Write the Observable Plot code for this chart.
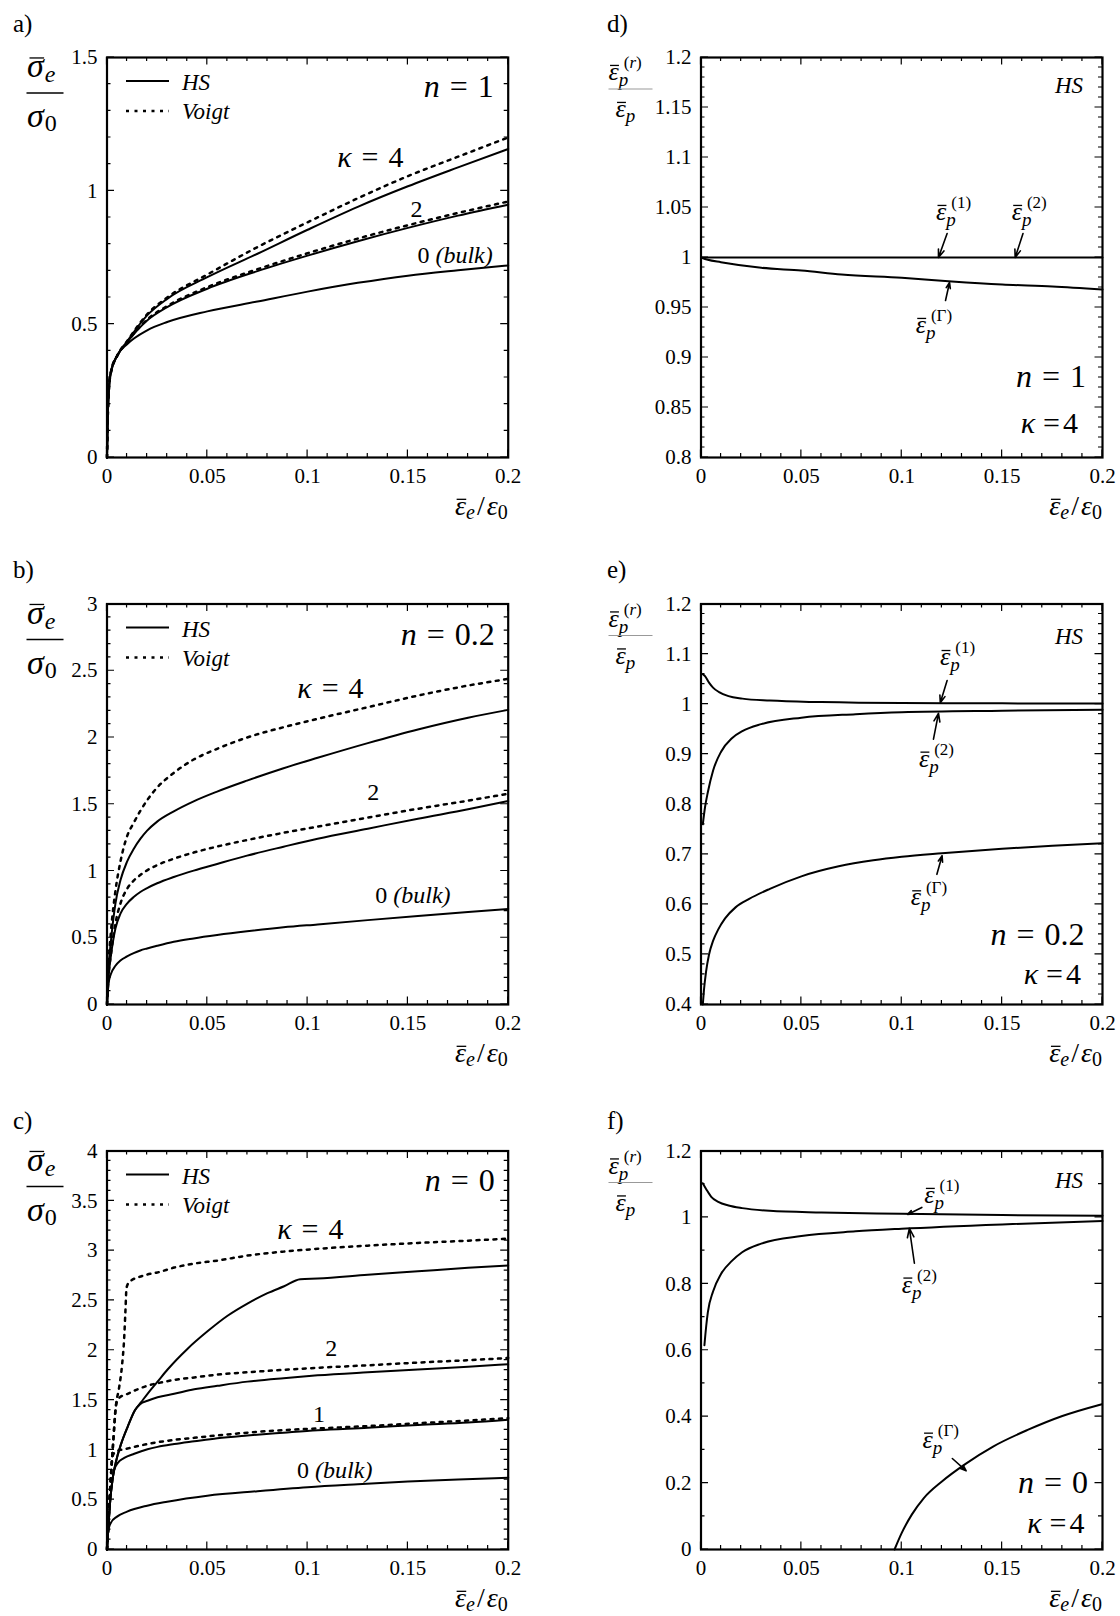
<!DOCTYPE html>
<html><head><meta charset="utf-8">
<script src="https://cdn.jsdelivr.net/npm/d3@7"></script>
<script src="https://cdn.jsdelivr.net/npm/@observablehq/plot@0.6"></script>
<style>
body{margin:0;background:#fff;}
#root{position:relative;width:1120px;height:1616px;background:#fff;}
.panel{position:absolute;}
</style></head><body><div id="root"></div>
<script>
const FONT = '"Liberation Serif", serif';

// ---------- axis ticks ----------
const xTicks = [0, 0.05, 0.1, 0.15, 0.2];
const aYTicks = [0, 0.5, 1, 1.5];
const bYTicks = [0, 0.5, 1, 1.5, 2, 2.5, 3];
const cYTicks = [0, 0.5, 1, 1.5, 2, 2.5, 3, 3.5, 4];
const dYTicks = [0.8, 0.85, 0.9, 0.95, 1, 1.05, 1.1, 1.15, 1.2];
const eYTicks = [0.4, 0.5, 0.6, 0.7, 0.8, 0.9, 1, 1.1, 1.2];
const fYTicks = [0, 0.2, 0.4, 0.6, 0.8, 1, 1.2];

// ---------- panel a (n = 1) ----------
const aX     = [0, 0.0003, 0.001, 0.002, 0.005, 0.01, 0.02, 0.03, 0.05, 0.075, 0.1, 0.125, 0.15, 0.175, 0.2];
const aBulk  = [0, 0.127, 0.262, 0.325, 0.382, 0.425, 0.477, 0.508, 0.548, 0.585, 0.622, 0.655, 0.682, 0.702, 0.72];
const aHS2   = [0, 0.127, 0.262, 0.322, 0.38, 0.432, 0.514, 0.564, 0.633, 0.699, 0.757, 0.811, 0.861, 0.907, 0.948];
const aV2    = [0, 0.127, 0.262, 0.322, 0.38, 0.433, 0.517, 0.568, 0.639, 0.706, 0.766, 0.821, 0.871, 0.917, 0.96];
const aHS4   = [0, 0.127, 0.262, 0.32, 0.38, 0.435, 0.533, 0.595, 0.676, 0.764, 0.854, 0.94, 1.017, 1.088, 1.157];
const aV4    = [0, 0.127, 0.262, 0.32, 0.38, 0.436, 0.537, 0.6, 0.686, 0.789, 0.882, 0.972, 1.055, 1.128, 1.2];

// ---------- panel b (n = 0.2) ----------
const bX     = [0, 0.0008, 0.002, 0.0042, 0.0067, 0.01, 0.0133, 0.0166, 0.02, 0.025, 0.0333, 0.0432, 0.0549, 0.0698, 0.088, 0.105, 0.13, 0.155, 0.18, 0.2];
const bBulk  = [0, 0.16, 0.23, 0.29, 0.33, 0.36, 0.385, 0.405, 0.42, 0.44, 0.47, 0.495, 0.52, 0.548, 0.578, 0.6, 0.632, 0.663, 0.693, 0.716];
const bHS2   = [0, 0.21, 0.37, 0.569, 0.68, 0.756, 0.805, 0.843, 0.872, 0.908, 0.955, 1.003, 1.053, 1.115, 1.182, 1.242, 1.317, 1.392, 1.462, 1.524];
const bV2    = [0, 0.22, 0.38, 0.606, 0.756, 0.866, 0.928, 0.97, 1.005, 1.044, 1.092, 1.138, 1.183, 1.232, 1.286, 1.332, 1.4, 1.466, 1.527, 1.579];
const bHS4   = [0, 0.28, 0.48, 0.756, 0.93, 1.07, 1.165, 1.24, 1.302, 1.37, 1.447, 1.522, 1.595, 1.677, 1.77, 1.848, 1.958, 2.06, 2.148, 2.207];
const bV4    = [0, 0.3, 0.55, 0.85, 1.07, 1.26, 1.36, 1.45, 1.53, 1.625, 1.735, 1.835, 1.915, 2.0, 2.077, 2.14, 2.227, 2.314, 2.389, 2.439];

// ---------- panel c (n = 0) ----------
const cBulkX = [0, 0.0003, 0.001, 0.002, 0.005, 0.01, 0.02, 0.03, 0.05, 0.075, 0.1, 0.125, 0.15, 0.175, 0.2];
const cBulk  = [0, 0.12, 0.22, 0.27, 0.33, 0.38, 0.44, 0.48, 0.54, 0.585, 0.625, 0.655, 0.682, 0.702, 0.72];
const cHS1X  = [0, 0.0007, 0.0015, 0.0028, 0.0036, 0.0053, 0.0086, 0.0136, 0.0202, 0.0252, 0.0335, 0.0435, 0.055, 0.07, 0.088, 0.105, 0.13, 0.155, 0.18, 0.2];
const cHS1   = [0, 0.223, 0.466, 0.71, 0.8, 0.867, 0.919, 0.961, 1.006, 1.03, 1.058, 1.086, 1.117, 1.145, 1.173, 1.198, 1.222, 1.25, 1.274, 1.302];
const cV1X   = [0, 0.0005, 0.0012, 0.002, 0.0027, 0.0033, 0.005, 0.0087, 0.0136, 0.02, 0.025, 0.0335, 0.0435, 0.055, 0.07, 0.088, 0.105, 0.13, 0.155, 0.18, 0.2];
const cV1    = [0, 0.2, 0.47, 0.75, 0.93, 0.96, 0.989, 1.006, 1.03, 1.058, 1.076, 1.1, 1.121, 1.145, 1.173, 1.198, 1.215, 1.239, 1.267, 1.295, 1.319];
const cHS2X  = [0, 0.0007, 0.0015, 0.0028, 0.0045, 0.007, 0.0103, 0.014, 0.0165, 0.0202, 0.0252, 0.0335, 0.0435, 0.055, 0.07, 0.088, 0.105, 0.13, 0.155, 0.18, 0.2];
const cHS2   = [0, 0.223, 0.466, 0.71, 0.884, 1.058, 1.232, 1.4, 1.459, 1.493, 1.528, 1.563, 1.608, 1.643, 1.685, 1.72, 1.748, 1.779, 1.807, 1.835, 1.859];
const cV2X   = [0, 0.0005, 0.0012, 0.002, 0.003, 0.0045, 0.006, 0.0103, 0.0153, 0.02, 0.025, 0.0335, 0.0435, 0.055, 0.07, 0.088, 0.105, 0.13, 0.155, 0.18, 0.2];
const cV2    = [0, 0.2, 0.47, 0.75, 1.05, 1.45, 1.52, 1.563, 1.608, 1.643, 1.668, 1.702, 1.727, 1.755, 1.779, 1.803, 1.824, 1.849, 1.876, 1.9, 1.922];
const cHS4X  = [0, 0.0007, 0.0015, 0.0028, 0.0045, 0.007, 0.0103, 0.014, 0.0169, 0.0202, 0.0252, 0.0302, 0.0402, 0.0501, 0.0601, 0.07, 0.08, 0.0883, 0.0963, 0.105, 0.13, 0.155, 0.18, 0.2];
const cHS4   = [0, 0.223, 0.466, 0.71, 0.884, 1.058, 1.232, 1.4, 1.476, 1.563, 1.685, 1.807, 2.016, 2.19, 2.346, 2.468, 2.573, 2.642, 2.712, 2.72, 2.757, 2.792, 2.827, 2.851];
const cV4X   = [0, 0.0005, 0.0012, 0.002, 0.003, 0.0045, 0.006, 0.0075, 0.0085, 0.0092, 0.0097, 0.0105, 0.012, 0.0153, 0.02, 0.025, 0.0335, 0.0435, 0.055, 0.07, 0.088, 0.105, 0.13, 0.155, 0.18, 0.2];
const cV4    = [0, 0.2, 0.47, 0.75, 1.05, 1.45, 1.62, 1.85, 2.1, 2.4, 2.62, 2.67, 2.7, 2.73, 2.76, 2.78, 2.83, 2.87, 2.9, 2.95, 2.99, 3.018, 3.05, 3.077, 3.1, 3.12];

// ---------- panel d (n = 1, kappa = 4) ----------
const dX1 = [0, 0.05, 0.1, 0.15, 0.2];
const dR1 = [1, 1, 1, 1, 1];
const dXG = [0, 0.0034, 0.0099, 0.03, 0.05, 0.07, 0.1, 0.125, 0.15, 0.175, 0.2];
const dRG = [1.0, 0.9977, 0.9953, 0.9897, 0.987, 0.983, 0.9797, 0.976, 0.973, 0.971, 0.968];

// ---------- panel e (n = 0.2, kappa = 4) ----------
const eX1 = [0.0009, 0.002, 0.004, 0.006, 0.009, 0.0137, 0.0206, 0.0343, 0.06, 0.1, 0.15, 0.2];
const eR1 = [1.06, 1.056, 1.043, 1.033, 1.024, 1.016, 1.011, 1.007, 1.004, 1.002, 1.0015, 1.001];
const eX2 = [0.0009, 0.002, 0.0034, 0.006, 0.01, 0.0154, 0.0206, 0.03, 0.05, 0.077, 0.1, 0.15, 0.2];
const eR2 = [0.76, 0.794, 0.824, 0.867, 0.905, 0.932, 0.946, 0.96, 0.973, 0.98, 0.984, 0.987, 0.989];
const eXG = [0.0009, 0.0015, 0.0025, 0.004, 0.006, 0.0086, 0.012, 0.0172, 0.024, 0.0343, 0.05, 0.0686, 0.0858, 0.1, 0.12, 0.15, 0.175, 0.2];
const eRG = [0.4, 0.43, 0.465, 0.5, 0.527, 0.55, 0.572, 0.594, 0.611, 0.631, 0.656, 0.676, 0.688, 0.695, 0.702, 0.711, 0.717, 0.722];

// ---------- panel f (n = 0, kappa = 4) ----------
const fX1 = [0.0009, 0.0026, 0.0051, 0.0086, 0.0137, 0.0205, 0.0342, 0.06, 0.1, 0.15, 0.2];
const fR1 = [1.103, 1.085, 1.062, 1.047, 1.036, 1.028, 1.02, 1.015, 1.011, 1.007, 1.005];
const fX2 = [0.0017, 0.0026, 0.0034, 0.006, 0.0099, 0.0154, 0.0205, 0.03, 0.05, 0.077, 0.1, 0.15, 0.2];
const fR2 = [0.615, 0.673, 0.714, 0.777, 0.829, 0.869, 0.895, 0.921, 0.944, 0.958, 0.966, 0.979, 0.989];
const fXG = [0.0964, 0.1, 0.105, 0.111, 0.12, 0.1318, 0.1455, 0.1627, 0.18, 0.1997];
const fRG = [0, 0.05, 0.105, 0.155, 0.205, 0.258, 0.31, 0.36, 0.402, 0.4376];

// ================= helpers =================
const pts = (xs, ys) => xs.map((x, i) => ({x, y: ys[i]}));
const steps = (a, b, s) => { const out = []; const n = Math.round((b - a) / s); for (let i = 0; i <= n; i++) out.push(+(a + i * s).toFixed(4)); return out; };
const fmt = d => String(+(+d).toFixed(3));
const NS = "http://www.w3.org/2000/svg";
function el(tag, attrs = {}) { const e = document.createElementNS(NS, tag); for (const k in attrs) if (attrs[k] != null) e.setAttribute(k, attrs[k]); return e; }
const cvx = document.createElement("canvas").getContext("2d");
function tw(t, s, it) { cvx.font = `${it ? "italic " : ""}${s}px "Liberation Serif", serif`; return cvx.measureText(t).width; }
const P = (t, s, o = {}) => ({t, s, ...o});

// one <text> per label, parts laid out as positioned tspans
function mathText(parts, X, Y, anchor) {
  let cur = 0, prevStart = 0; const items = [];
  for (const p of parts) {
    const w = tw(p.t, p.s, p.it);
    const start = (p.stack ? prevStart : cur) + (p.dx || 0);
    items.push({...p, x: start, w});
    prevStart = start;
    cur = Math.max(cur, start + w);
  }
  const shift = anchor === "end" ? -cur : anchor === "middle" ? -cur / 2 : 0;
  const g = el("g");
  const text = el("text", {"font-family": FONT, fill: "#000", "text-anchor": "start"});
  for (const it of items) {
    const ts = el("tspan", {x: X + it.x + shift, y: Y + (it.dy || 0), "font-size": it.s, "font-style": it.it ? "italic" : "normal"});
    ts.textContent = it.t;
    text.appendChild(ts);
    if (it.ov) {
      const yy = Y + (it.dy || 0) - it.s * 0.56;
      g.appendChild(el("line", {x1: X + it.x + shift + it.w * 0.15, x2: X + it.x + shift + it.w * 1.02, y1: yy, y2: yy, stroke: "#000", "stroke-width": 1.3}));
    }
  }
  g.appendChild(text);
  return g;
}

function frameBox(d) { return {L: d.marginLeft, T: d.marginTop, R: d.width - d.marginRight, B: d.height - d.marginBottom}; }
function refPt(box, ref, dx, dy) { return [(ref[1] === "L" ? box.L : box.R) + dx, (ref[0] === "T" ? box.T : box.B) + dy]; }

function deco(specs) {
  return (index, scales, values, dims) => {
    const box = frameBox(dims);
    const g = el("g");
    for (const s of specs) {
      if (s.k === "t") {
        const [X, Y] = s.d ? [scales.x(s.d[0]), scales.y(s.d[1])] : refPt(box, s.at[0], s.at[1], s.at[2]);
        g.appendChild(mathText(s.parts, X, Y, s.anchor || "start"));
      } else if (s.k === "l") {
        const [x1, y1] = refPt(box, s.at[0], s.at[1], s.at[2]);
        const [x2, y2] = refPt(box, s.at[0], s.at[3], s.at[4]);
        g.appendChild(el("line", {x1, y1, x2, y2, stroke: s.c || "#000", "stroke-width": s.w || 1.6, "stroke-dasharray": s.dash}));
      }
    }
    return g;
  };
}

function tickMarks(xMaj, xMin, yMaj, yMin) {
  return (index, scales, values, dims) => {
    const {L, T, R, B} = frameBox(dims);
    let d = "";
    const xs = (arr, len) => { for (const v of arr) { const p = scales.x(v); d += `M${p},${B}v${-len}M${p},${T}v${len}`; } };
    const ys = (arr, len) => { for (const v of arr) { const p = scales.y(v); d += `M${L},${p}h${len}M${R},${p}h${-len}`; } };
    xs(xMin, 4); xs(xMaj, 7.5); ys(yMin, 4); ys(yMaj, 7.5);
    return el("path", {d, stroke: "#000", "stroke-width": 1.2, fill: "none"});
  };
}

const xMinor = steps(0, 0.2, 0.01);
const DOT = "3,5.5";

// label templates
const leftYLabel = [
  {k: "t", at: ["TL", -79.5, 20], parts: [P("σ", 34, {it: 1, ov: 1}), P("e", 24, {it: 1, dy: 5, dx: 1})]},
  {k: "l", at: ["TL", -80, 36, -43, 36], w: 1.7},
  {k: "t", at: ["TL", -79.5, 70], parts: [P("σ", 34, {it: 1}), P("0", 24, {dy: 4, dx: 1})]}
];
const rightYLabel = [
  {k: "t", at: ["TL", -92, 23], parts: [P("ε", 26, {it: 1, ov: 1}), P("p", 19, {it: 1, dy: 6}), P("(", 17, {dy: -12, stack: 1, dx: 5}), P("r", 17, {it: 1, dy: -12}), P(")", 17, {dy: -12})]},
  {k: "l", at: ["TL", -92, 32, -48, 32], w: 1, c: "#999"},
  {k: "t", at: ["TL", -85, 60], parts: [P("ε", 26, {it: 1, ov: 1}), P("p", 19, {it: 1, dy: 5})]}
];
const xLabel = [{k: "t", at: ["BR", 0, 58], anchor: "end",
  parts: [P("ε", 28, {it: 1, ov: 1}), P("e", 20, {it: 1, dy: 4}), P("/", 28, {dx: 2}), P("ε", 28, {it: 1, dx: 2}), P("0", 20, {dy: 4})]}];
const legend = [
  {k: "l", at: ["TL", 19.5, 24, 62.5, 24], w: 2},
  {k: "t", at: ["TL", 75.5, 33], parts: [P("HS", 23, {it: 1})]},
  {k: "l", at: ["TL", 19.5, 54, 62.5, 54], w: 2.5, dash: DOT},
  {k: "t", at: ["TL", 75.5, 62], parts: [P("Voigt", 23, {it: 1})]}
];
const letter = (t, dy) => ({k: "t", at: ["TL", -93.5, dy], parts: [P(t, 25)]});
const nLab = (v, at) => ({k: "t", at, anchor: "end", parts: [P("n", 32, {it: 1}), P("=", 32, {dx: 10}), P(v, 32, {dx: 10})]});
const kLab = (at, anchor) => ({k: "t", at, anchor, parts: [P("κ", 30, {it: 1}), P("=", 30, {dx: 8}), P("4", 30, {dx: 3})]});
const kData = d => ({k: "t", d, parts: [P("κ", 30, {it: 1}), P("=", 30, {dx: 10}), P("4", 30, {dx: 10})]});
const numLab = (t, d) => ({k: "t", d, parts: [P(t, 24)]});
const bulkLab = d => ({k: "t", d, parts: [P("0", 24), P("(bulk)", 24, {it: 1, dx: 6})]});
const epsLab = (sup, d) => ({k: "t", d, parts: [P("ε", 26, {it: 1, ov: 1}), P("p", 19, {it: 1, dy: 6}), P("(", 17, {dy: -12, stack: 1, dx: 5}), P(sup, 17, {dy: -12}), P(")", 17, {dy: -12})]});
const hsLab = dy => ({k: "t", at: ["TR", -19, dy], anchor: "end", parts: [P("HS", 23, {it: 1})]});

const root = document.getElementById("root");
const COLS = [{left: 0, mL: 106.5, mR: 52.3}, {left: 560, mL: 140.5, mR: 18}];
const ROWS = [{top: 0, h: 540, mT: 57, mB: 83, let: -25}, {top: 540, h: 540, mT: 63.5, mB: 76, let: -25.5}, {top: 1080, h: 536, mT: 70.5, mB: 67, let: -21.5}];

function makePanel(cfg) {
  const col = COLS[cfg.col], row = ROWS[cfg.row];
  const marks = [
    Plot.axisX({ticks: xTicks, tickSize: 0, tickPadding: 11, tickFormat: fmt, label: null}),
    Plot.axisY({ticks: cfg.yTicks, tickSize: 0, tickPadding: 9.5, tickFormat: fmt, label: null}),
    ...cfg.lines.map(s => Plot.line(s.data, {x: "x", y: "y", curve: "monotone-x", stroke: "#000",
      strokeWidth: s.dash ? 2.5 : 2, ...(s.dash ? {strokeDasharray: DOT} : {})})),
    ...(cfg.arrows ? [Plot.arrow(cfg.arrows, {x1: "x1", y1: "y1", x2: "x2", y2: "y2", stroke: "#000", strokeWidth: 1.6, headLength: 9, headAngle: 40})] : []),
    tickMarks(xTicks, xMinor, cfg.yTicks, cfg.yMinor),
    Plot.frame({stroke: "#000", strokeWidth: 2.2}),
    deco([letter(cfg.letter, row.let), ...(cfg.col === 0 ? leftYLabel : rightYLabel), ...xLabel, ...cfg.deco])
  ];
  const svg = Plot.plot({
    width: 560, height: row.h,
    marginLeft: col.mL, marginRight: col.mR, marginTop: row.mT, marginBottom: row.mB,
    x: {domain: [0, 0.2], label: null},
    y: {domain: cfg.yDomain, label: null},
    style: {fontFamily: FONT, fontSize: "21px", color: "#000", background: "transparent", overflow: "visible", maxWidth: "none"},
    marks
  });
  const div = document.createElement("div");
  div.className = "panel";
  div.style.left = col.left + "px"; div.style.top = row.top + "px"; div.style.width = "560px"; div.style.height = row.h + "px";
  div.appendChild(svg);
  root.appendChild(div);
}

// ---- a ----
makePanel({col: 0, row: 0, letter: "a)", yDomain: [0, 1.5], yTicks: aYTicks, yMinor: steps(0, 1.5, 0.1),
  lines: [{data: pts(aX, aBulk)}, {data: pts(aX, aHS2)}, {data: pts(aX, aV2), dash: 1}, {data: pts(aX, aHS4)}, {data: pts(aX, aV4), dash: 1}],
  deco: [...legend, nLab("1", ["TR", -14, 40]), kData([0.115, 1.0875]), numLab("2", [0.1515, 0.9]), bulkLab([0.155, 0.727])]});

// ---- b ----
makePanel({col: 0, row: 1, letter: "b)", yDomain: [0, 3], yTicks: bYTicks, yMinor: steps(0, 3, 0.1),
  lines: [{data: pts(bX, bBulk)}, {data: pts(bX, bHS2)}, {data: pts(bX, bV2), dash: 1}, {data: pts(bX, bHS4)}, {data: pts(bX, bV4), dash: 1}],
  deco: [...legend, nLab("0.2", ["TR", -13, 41]), kData([0.0951, 2.29]), numLab("2", [0.13, 1.526]), bulkLab([0.134, 0.753])]});

// ---- c ----
makePanel({col: 0, row: 2, letter: "c)", yDomain: [0, 4], yTicks: cYTicks, yMinor: steps(0, 4, 0.1),
  lines: [{data: pts(cBulkX, cBulk)}, {data: pts(cHS1X, cHS1)}, {data: pts(cV1X, cV1), dash: 1}, {data: pts(cHS2X, cHS2)}, {data: pts(cV2X, cV2), dash: 1},
          {data: pts(cHS4X, cHS4)}, {data: pts(cV4X, cV4), dash: 1}],
  deco: [...legend, nLab("0", ["TR", -13, 40]), kData([0.0851, 3.11]), numLab("2", [0.109, 1.937]), numLab("1", [0.103, 1.277]), bulkLab([0.095, 0.712])]});

// ---- d ----
makePanel({col: 1, row: 0, letter: "d)", yDomain: [0.8, 1.2], yTicks: dYTicks, yMinor: steps(0.8, 1.2, 0.01),
  lines: [{data: pts(dX1, dR1)}, {data: pts(dXG, dRG)}],
  arrows: [{x1: 0.1226, y1: 1.024, x2: 0.1183, y2: 1.0}, {x1: 0.1604, y1: 1.024, x2: 0.1565, y2: 1.0}, {x1: 0.1218, y1: 0.957, x2: 0.1238, y2: 0.975}],
  deco: [hsLab(36), epsLab("1", [0.1173, 1.037]), epsLab("2", [0.155, 1.037]), epsLab("Γ", [0.1072, 0.924]),
         nLab("1", ["BR", -16, -70]), kLab(["BR", -24, -24], "end")]});

// ---- e ----
makePanel({col: 1, row: 1, letter: "e)", yDomain: [0.4, 1.2], yTicks: eYTicks, yMinor: steps(0.4, 1.2, 0.02),
  lines: [{data: pts(eX1, eR1)}, {data: pts(eX2, eR2)}, {data: pts(eXG, eRG)}],
  arrows: [{x1: 0.1226, y1: 1.047, x2: 0.1192, y2: 1.0026}, {x1: 0.1158, y1: 0.93, x2: 0.1183, y2: 0.9816}, {x1: 0.1175, y1: 0.66, x2: 0.1201, y2: 0.697}],
  deco: [hsLab(40), epsLab("1", [0.1193, 1.077]), epsLab("2", [0.1088, 0.874]), epsLab("Γ", [0.1047, 0.597]),
         nLab("0.2", ["BR", -17.5, -59]), kLab(["BR", -21, -20], "end")]});

// ---- f ----
makePanel({col: 1, row: 2, letter: "f)", yDomain: [0, 1.2], yTicks: fYTicks, yMinor: steps(0, 1.2, 0.1),
  lines: [{data: pts(fX1, fR1)}, {data: pts(fX2, fR2)}, {data: pts(fXG, fRG)}],
  arrows: [{x1: 0.11, y1: 1.03, x2: 0.1029, y2: 1.009}, {x1: 0.1063, y1: 0.862, x2: 0.1038, y2: 0.967}, {x1: 0.1252, y1: 0.274, x2: 0.1321, y2: 0.237}],
  deco: [hsLab(37), epsLab("1", [0.1115, 1.042]), epsLab("2", [0.1003, 0.772]), epsLab("Γ", [0.1106, 0.305]),
         nLab("0", ["BR", -14, -56]), kLab(["BR", -17.5, -16], "end")]});
</script></body></html>
